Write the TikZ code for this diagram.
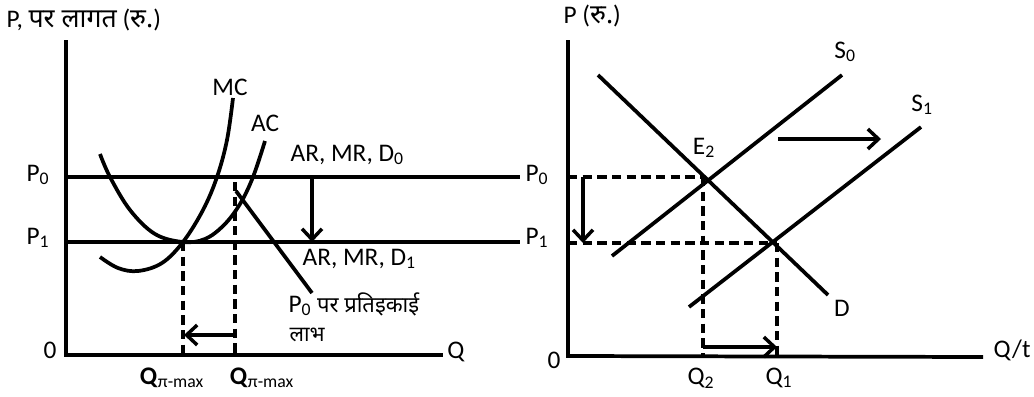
\documentclass[tikz,border=0pt]{standalone}
\usepackage{fontspec}
\setmainfont{Carlito}
\newfontfamily\dev[Script=Devanagari]{Noto Sans}
\usetikzlibrary{arrows.meta}
\begin{document}
\begin{tikzpicture}[x=0.75pt,y=-0.75pt,
  ax/.style={line width=2.8pt},
  crv/.style={line width=2.8pt},
  dsh/.style={line width=2.6pt,dash pattern=on 7pt off 4pt},
  arr/.style={line width=2.8pt,-{Straight Barb[length=8pt,width=15pt,line width=2.6pt]}},
  lbl/.style={font=\fontsize{19}{22}\selectfont,inner sep=1pt},
  dlbl/.style={font=\fontsize{16}{20}\selectfont,inner sep=1pt}]
\useasboundingbox (0,0) rectangle (1034,396);
% ---------- left panel ----------
\coordinate (LO) at (66,355);
\coordinate (LYt) at (66,40);
\coordinate (LXr) at (443,355);
\draw[ax] (LYt) -- (LO) -- (LXr);
\coordinate (LP0a) at (66,177); \coordinate (LP0b) at (520,177);
\coordinate (LP1a) at (66,242); \coordinate (LP1b) at (520,242);
\draw[ax] (LP0a) -- (LP0b);
\draw[ax] (LP1a) -- (LP1b);
% MC and AC
\draw[crv] plot[smooth,tension=0.6] coordinates {(100,257) (118,268) (138,271) (162,263) (183,242) (203,210) (217,177) (227,140) (233,98)};
\draw[crv] plot[smooth,tension=0.6] coordinates {(100,154) (110,177) (130,210) (155,234) (183,242) (205,239) (224,225) (240,204) (253,177) (265,141)};
% profit line
\coordinate (PLa) at (236,191); \coordinate (PLb) at (312,293);
\draw[crv] (PLa) -- (PLb);
% dashed verticals
\coordinate (Qa1) at (183,242); \coordinate (Qa0) at (183,355);
\coordinate (Qb1) at (235,182); \coordinate (Qb0) at (235,355);
\draw[dsh] (Qa1) -- (Qa0);
\draw[dsh] (Qb1) -- (Qb0);
% arrows
\coordinate (DA1) at (312,177); \coordinate (DA2) at (312,242);
\draw[arr] (DA1) -- (DA2);
\coordinate (LA1) at (235,335); \coordinate (LA2) at (184,335);
\draw[arr] (LA1) -- (LA2);
% labels
\node[lbl,anchor=west] (ylab) at (5,20) {P, {\dev\fontsize{20}{24}\selectfont पर लागत} ({\dev\fontsize{20}{24}\selectfont रु.})};
\node[lbl] (mc) at (230,87) {MC};
\node[lbl] (ac) at (265,123) {AC};
\node[lbl,anchor=west] (d0) at (289,155) {AR, MR, D\textsubscript{0}};
\node[lbl,anchor=west] (d1) at (301,259) {AR, MR, D\textsubscript{1}};
\node[lbl,anchor=west] (pr1) at (287,304) {P\textsubscript{0} {\dev\fontsize{16.5}{20}\selectfont पर प्रतिइकाई}};
\node[dlbl,anchor=west] (pr2) at (288,335) {\dev लाभ};
\node[lbl] (p0l) at (38,175) {P\textsubscript{0}};
\node[lbl] (p1l) at (38,238) {P\textsubscript{1}};
\node[lbl] (zl) at (50,350) {0};
\node[lbl] (ql) at (456,352) {Q};
\node[lbl] (qm1) at (172,378) {\textbf{Q}\textsubscript{π-max}};
\node[lbl] (qm2) at (262,378) {\textbf{Q}\textsubscript{π-max}};
\node[lbl] (p0r) at (537,175) {P\textsubscript{0}};
\node[lbl] (p1r) at (537,238) {P\textsubscript{1}};
% ---------- right panel ----------
\coordinate (RO) at (568,356);
\coordinate (RYt) at (568,40);
\coordinate (RXr) at (983,357);
\draw[ax] (RYt) -- (RO) -- (RXr);
\coordinate (Da) at (598,75); \coordinate (Db) at (828,295);
\draw[crv] (Da) -- (Db);
\coordinate (S0a) at (612,256); \coordinate (S0b) at (842,75);
\draw[crv] (S0a) -- (S0b);
\coordinate (S1a) at (689,307); \coordinate (S1b) at (921,127);
\draw[crv] (S1a) -- (S1b);
\coordinate (E2) at (703,177);
\coordinate (E1) at (777,243);
\coordinate (RP0) at (568,177); \coordinate (RP1) at (568,243);
\draw[dsh] (RP0) -- (E2);
\draw[dsh] (RP1) -- (E1);
\coordinate (RQ2) at (703,356); \coordinate (RQ1) at (777,356);
\draw[dsh] (E2) -- (RQ2);
\draw[dsh] (E1) -- (RQ1);
\coordinate (RA1) at (583,177); \coordinate (RA2) at (583,243);
\draw[arr] (RA1) -- (RA2);
\coordinate (RB1) at (703,347); \coordinate (RB2) at (777,347);
\draw[arr] (RB1) -- (RB2);
\coordinate (RC1) at (778,139); \coordinate (RC2) at (881,139);
\draw[arr] (RC1) -- (RC2);
\node[lbl,anchor=west] (ylab2) at (562,16) {P ({\dev\fontsize{20}{24}\selectfont रु.})};
\node[lbl] (s0) at (845,52) {S\textsubscript{0}};
\node[lbl] (s1) at (922,105) {S\textsubscript{1}};
\node[lbl] (e2) at (704,148) {E\textsubscript{2}};
\node[lbl] (dl) at (842,308) {D};
\node[lbl] (zr) at (554,360) {0};
\node[lbl] (q2) at (701,378) {Q\textsubscript{2}};
\node[lbl] (q1) at (779,378) {Q\textsubscript{1}};
\node[lbl] (qt) at (1012,350) {Q/t};
\end{tikzpicture}
\end{document}
